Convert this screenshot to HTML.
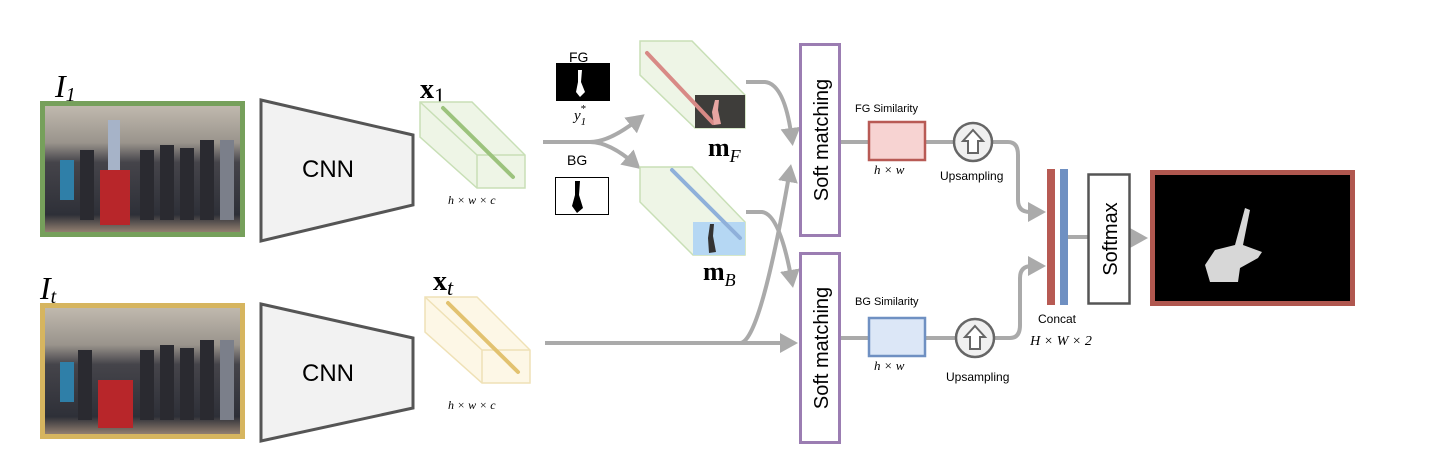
<!DOCTYPE html>
<html><head><meta charset="utf-8"><style>
html,body{margin:0;padding:0;background:#fff}
svg{display:block}
.s{font-family:"Liberation Sans",sans-serif}
.m{font-family:"Liberation Serif",serif;font-style:italic}
</style></head><body>
<svg width="1439" height="471" viewBox="0 0 1439 471" xmlns="http://www.w3.org/2000/svg">
<defs>
<marker id="ah" markerWidth="5" markerHeight="5" refX="3" refY="2.5" orient="auto" markerUnits="strokeWidth"><path d="M0,0 L4.5,2.5 L0,5 z" fill="#aaa"/></marker>
<linearGradient id="ph" x1="0" y1="0" x2="0" y2="1"><stop offset="0" stop-color="#c2bbb0"/><stop offset="0.3" stop-color="#9a948c"/><stop offset="0.45" stop-color="#45444a"/><stop offset="0.85" stop-color="#2e3038"/><stop offset="1" stop-color="#a08a78"/></linearGradient>
</defs>
<g>
<text x="55" y="97" class="m" font-size="32">I<tspan font-size="20" dy="4">1</tspan></text>
<rect x="42.5" y="103.5" width="200" height="131" fill="url(#ph)" stroke="#76a05b" stroke-width="5"/>
<g fill="#2a2a30"><rect x="140" y="150" width="14" height="70"/><rect x="160" y="145" width="14" height="75"/><rect x="180" y="148" width="14" height="72"/><rect x="200" y="140" width="14" height="80"/><rect x="220" y="140" width="14" height="80" fill="#7b7f8a"/><rect x="80" y="150" width="14" height="70"/></g>
<rect x="100" y="170" width="30" height="55" fill="#b8262a"/><rect x="108" y="120" width="12" height="50" fill="#a6b3c8"/>
<rect x="60" y="160" width="14" height="40" fill="#2f7fa8"/>
</g>
<g>
<text x="40" y="299" class="m" font-size="32">I<tspan font-size="20" dy="4">t</tspan></text>
<rect x="42.5" y="305.5" width="200" height="131" fill="url(#ph)" stroke="#d6b55f" stroke-width="5"/>
<g fill="#2a2a30"><rect x="140" y="350" width="14" height="70"/><rect x="160" y="345" width="14" height="75"/><rect x="180" y="348" width="14" height="72"/><rect x="200" y="340" width="14" height="80"/><rect x="220" y="340" width="14" height="80" fill="#7b7f8a"/><rect x="78" y="350" width="14" height="70"/></g>
<rect x="98" y="380" width="35" height="48" fill="#b8262a"/><rect x="60" y="362" width="14" height="40" fill="#2f7fa8"/>
</g>
<g>
<path d="M261,100 L413,135 L413,205 L261,241 Z" fill="#f2f2f2" stroke="#555" stroke-width="3"/>
<text x="328" y="177" class="s" font-size="24" text-anchor="middle">CNN</text>
</g>
<g>
<path d="M261,304 L413,338 L413,408 L261,441 Z" fill="#f2f2f2" stroke="#555" stroke-width="3"/>
<text x="328" y="381" class="s" font-size="24" text-anchor="middle">CNN</text>
</g>
<g>
<text x="420" y="98" font-family="Liberation Serif,serif" font-weight="bold" font-size="28">x<tspan font-weight="normal" font-size="22" dy="5">1</tspan></text>
<path d="M420,102 L472,102 L525,155 L525,188 L477,188 L420,137 Z" fill="#eef5e6" stroke="#c8dfb6" stroke-width="1.5"/>
<path d="M420,102 L477,155 L525,155 M477,155 L477,188" fill="none" stroke="#c8dfb6" stroke-width="1.5"/>
<path d="M443,108 L513,177" stroke="#9cc37d" stroke-width="4" stroke-linecap="round"/>
<text x="448" y="204" class="m" font-size="12">h × w × c</text>
</g>
<g>
<text x="433" y="290" font-family="Liberation Serif,serif" font-weight="bold" font-size="28">x<tspan class="m" font-weight="normal" font-size="22" dy="5">t</tspan></text>
<path d="M425,297 L477,297 L530,350 L530,383 L482,383 L425,332 Z" fill="#fdf7e6" stroke="#efe1b6" stroke-width="1.5"/>
<path d="M425,297 L482,350 L530,350 M482,350 L482,383" fill="none" stroke="#efe1b6" stroke-width="1.5"/>
<path d="M448,303 L518,372" stroke="#e2c270" stroke-width="4" stroke-linecap="round"/>
<text x="448" y="409" class="m" font-size="12">h × w × c</text>
</g>
<g>
<text x="569" y="62" class="s" font-size="14">FG</text>
<rect x="556" y="63" width="54" height="38" fill="#000"/>
<path d="M578,70 L582,70 L581,82 L585,92 L580,97 L576,92 L578,82 Z" fill="#fff"/>
<text x="574" y="120" class="m" font-size="15">y<tspan font-size="11" dy="5">1</tspan><tspan font-size="11" dy="-13" dx="-6">*</tspan></text>
</g>
<g>
<text x="567" y="165" class="s" font-size="14">BG</text>
<rect x="555.5" y="177.5" width="53" height="37" fill="#fff" stroke="#000"/>
<path d="M575,181 L580,181 L579,195 L583,208 L577,213 L572,206 L575,195 Z" fill="#000"/>
</g>
<g fill="none" stroke="#aaa" stroke-width="4">
<path d="M543,142 L590,142 Q610,142 640,118" marker-end="url(#ah)"/>
<path d="M590,142 Q610,142 636,165" marker-end="url(#ah)"/>
<path d="M545,343 L740,343" />
<path d="M740,343 Q760,343 790,170" marker-end="url(#ah)"/>
<path d="M740,343 L792,343" marker-end="url(#ah)"/>
<path d="M746,82 L765,82 Q785,84 792,140" marker-end="url(#ah)"/>
<path d="M746,212 L762,212 Q780,214 792,282" marker-end="url(#ah)"/>
<path d="M840,142 L868,142 M925,142 L953,142 M993,142 L1008,142 Q1018,142 1018,155 L1018,200 Q1018,212 1030,212 L1040,212" marker-end="url(#ah)"/>
<path d="M840,338 L868,338 M925,338 L955,338 M995,338 L1010,338 Q1020,338 1020,325 L1020,278 Q1020,266 1032,266 L1040,266" marker-end="url(#ah)"/>
<path d="M1068,237 L1088,237"/>
<path d="M1130,238 L1142,238" marker-end="url(#ah)"/>
</g>
<g>
<path d="M640,41 L692,41 L745,95 L745,128 L695,128 L640,75 Z" fill="#eef5e6" stroke="#c8dfb6" stroke-width="1.5"/>
<rect x="695" y="95" width="50" height="33" fill="#3e3d3a"/>
<path d="M647,53 L713,123" stroke="#d88a86" stroke-width="4" stroke-linecap="round"/>
<path d="M715,100 L719,100 L718,110 L721,124 L714,125 L712,112 Z" fill="#e8a6a2"/>
<text x="708" y="156" font-family="Liberation Serif,serif" font-weight="bold" font-size="26">m<tspan class="m" font-weight="normal" font-size="18" dy="6">F</tspan></text>
</g>
<g>
<path d="M640,167 L692,167 L745,222 L745,255 L693,255 L640,202 Z" fill="#eef5e6" stroke="#c8dfb6" stroke-width="1.5"/>
<rect x="693" y="222" width="52" height="33" fill="#b5d7f3"/>
<path d="M672,170 L740,238" stroke="#8fb0da" stroke-width="4" stroke-linecap="round"/>
<path d="M710,224 L714,224 L713,236 L716,252 L709,253 L708,238 Z" fill="#333"/>
<text x="703" y="280" font-family="Liberation Serif,serif" font-weight="bold" font-size="26">m<tspan class="m" font-weight="normal" font-size="18" dy="6">B</tspan></text>
</g>
<g>
<rect x="800.5" y="44.5" width="39" height="191" fill="#fff" stroke="#9b7db2" stroke-width="3"/>
<text transform="translate(828,140) rotate(-90)" class="s" font-size="20" text-anchor="middle">Soft matching</text>
</g>
<g>
<rect x="800.5" y="253.5" width="39" height="189" fill="#fff" stroke="#9b7db2" stroke-width="3"/>
<text transform="translate(828,348) rotate(-90)" class="s" font-size="20" text-anchor="middle">Soft matching</text>
</g>
<g>
<text x="855" y="112" class="s" font-size="11">FG Similarity</text>
<rect x="869" y="122" width="56" height="38" fill="#f7d3d2" stroke="#b85a55" stroke-width="2.5"/>
<text x="874" y="174" class="m" font-size="13">h × w</text>
</g>
<g>
<text x="855" y="305" class="s" font-size="11">BG Similarity</text>
<rect x="869" y="318" width="56" height="38" fill="#dce7f7" stroke="#6f90c2" stroke-width="2.5"/>
<text x="874" y="370" class="m" font-size="13">h × w</text>
</g>
<g>
<circle cx="973" cy="142" r="19" fill="#f0f0f0" stroke="#666" stroke-width="2.5"/>
<path d="M973,130 L983,141 L978,141 L978,153 L968,153 L968,141 L963,141 Z" fill="#fff" stroke="#666" stroke-width="2"/>
<text x="940" y="180" class="s" font-size="12">Upsampling</text>
</g>
<g>
<circle cx="975" cy="338" r="19" fill="#f0f0f0" stroke="#666" stroke-width="2.5"/>
<path d="M975,326 L985,337 L980,337 L980,349 L970,349 L970,337 L965,337 Z" fill="#fff" stroke="#666" stroke-width="2"/>
<text x="946" y="381" class="s" font-size="12">Upsampling</text>
</g>
<g>
<rect x="1047" y="169" width="8" height="136" fill="#b75a53"/>
<rect x="1060" y="169" width="8" height="136" fill="#6f90c2"/>
<text x="1057" y="323" class="s" font-size="12" text-anchor="middle">Concat</text>
<text x="1061" y="345" class="m" font-size="14" text-anchor="middle">H × W × 2</text>
</g>
<g>
<rect x="1088.5" y="174.5" width="41" height="129" fill="#fff" stroke="#555" stroke-width="2.5"/>
<text transform="translate(1117,239) rotate(-90)" class="s" font-size="20" text-anchor="middle">Softmax</text>
</g>
<g>
<rect x="1152.5" y="172.5" width="200" height="131" fill="#000" stroke="#b0574f" stroke-width="5"/>
<path d="M1245,208 L1250,210 L1243,245 L1262,252 L1258,258 L1240,268 L1238,282 L1210,282 L1205,265 L1215,250 L1235,245 Z" fill="#eee" opacity="0.9"/>
</g>
</svg>
</body></html>
